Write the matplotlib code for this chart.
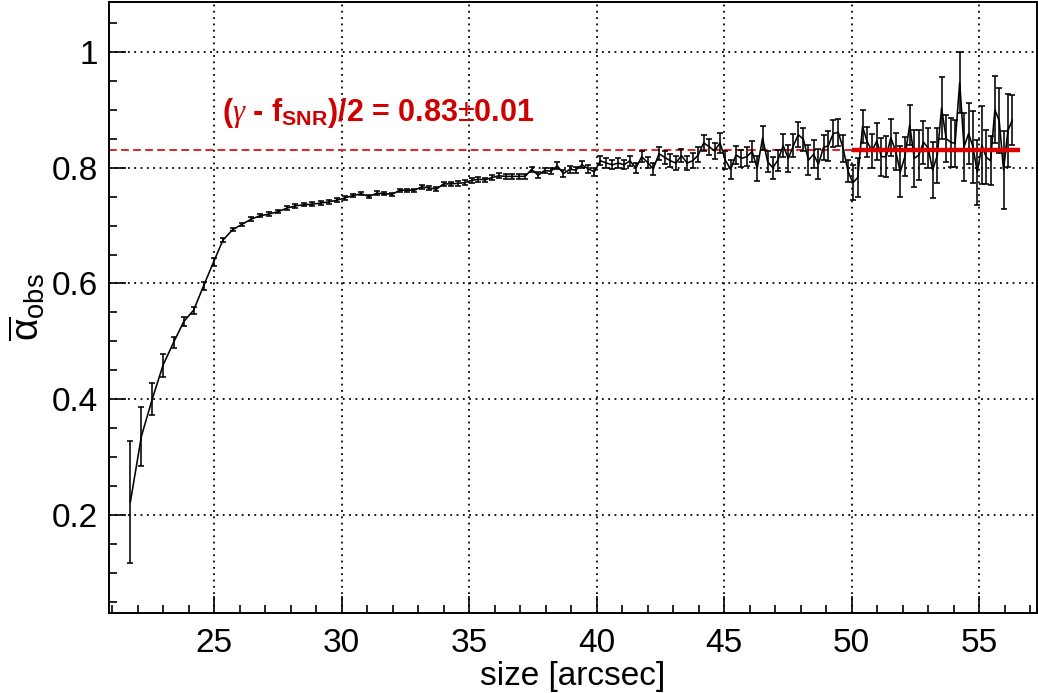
import matplotlib
matplotlib.use("Agg")
import matplotlib.pyplot as plt

plt.rcParams['font.family'] = ['Liberation Sans', 'DejaVu Sans']
plt.rcParams['mathtext.fontset'] = 'custom'
plt.rcParams['mathtext.rm'] = 'Liberation Sans'
plt.rcParams['mathtext.it'] = 'Liberation Serif:italic'
plt.rcParams['mathtext.bf'] = 'Liberation Sans:bold'

# ---------------- data ----------------
size_arcsec = [
    21.72, 22.15, 22.58, 23.00, 23.41, 23.81, 24.20, 24.59, 24.98, 25.35,
    25.73, 26.09, 26.45, 26.81, 27.16, 27.51, 27.85, 28.19, 28.53, 28.86,
    29.19, 29.51, 29.83, 30.15, 30.46, 30.77, 31.08, 31.38, 31.68, 31.98,
    32.28, 32.57, 32.86, 33.15, 33.43, 33.72, 34.00, 34.28, 34.55, 34.83,
    35.10, 35.37, 35.63, 35.90, 36.16, 36.43, 36.69, 36.94, 37.20, 37.45,
    37.71, 37.96, 38.21, 38.46, 38.70, 38.95, 39.19, 39.43, 39.67, 39.91,
    40.15, 40.38, 40.62, 40.85, 41.08, 41.31, 41.54, 41.77, 42.00, 42.22,
    42.45, 42.67, 42.89, 43.11, 43.33, 43.55, 43.77, 43.99, 44.20, 44.42,
    44.63, 44.84, 45.05, 45.26, 45.47, 45.68, 45.89, 46.10, 46.30, 46.51,
    46.71, 46.91, 47.11, 47.32, 47.52, 47.72, 47.91, 48.11, 48.31, 48.51,
    48.70, 48.90, 49.09, 49.28, 49.48, 49.67, 49.86, 50.05, 50.24, 50.43,
    50.61, 50.80, 50.99, 51.17, 51.36, 51.54, 51.73, 51.91, 52.09, 52.28,
    52.46, 52.64, 52.82, 53.00, 53.18, 53.36, 53.53, 53.71, 53.89, 54.06,
    54.24, 54.41, 54.59, 54.76, 54.93, 55.11, 55.28, 55.45, 55.62, 55.79,
    55.96, 56.13, 56.30,
]

alpha_obs = [
    0.223, 0.336, 0.401, 0.459, 0.498, 0.534, 0.554, 0.596, 0.637, 0.675,
    0.693, 0.702, 0.711, 0.717, 0.720, 0.724, 0.730, 0.734, 0.736, 0.737,
    0.739, 0.741, 0.744, 0.748, 0.752, 0.755, 0.750, 0.756, 0.755, 0.754,
    0.761, 0.761, 0.761, 0.767, 0.765, 0.763, 0.772, 0.772, 0.773, 0.774,
    0.778, 0.780, 0.779, 0.783, 0.786, 0.785, 0.785, 0.785, 0.785, 0.797,
    0.787, 0.795, 0.794, 0.803, 0.790, 0.797, 0.796, 0.805, 0.798, 0.793,
    0.812, 0.808, 0.805, 0.808, 0.805, 0.812, 0.799, 0.819, 0.809, 0.798,
    0.824, 0.818, 0.812, 0.808, 0.821, 0.808, 0.812, 0.822, 0.843, 0.836,
    0.829, 0.843, 0.813, 0.797, 0.822, 0.816, 0.819, 0.828, 0.799, 0.851,
    0.810, 0.800, 0.813, 0.838, 0.816, 0.838, 0.857, 0.849, 0.813, 0.823,
    0.806, 0.835, 0.838, 0.859, 0.861, 0.833, 0.794, 0.774, 0.783, 0.871,
    0.845, 0.829, 0.846, 0.819, 0.819, 0.852, 0.828, 0.793, 0.819, 0.874,
    0.816, 0.822, 0.844, 0.834, 0.796, 0.821, 0.903, 0.850, 0.844, 0.842,
    0.947, 0.836, 0.859, 0.836, 0.792, 0.839, 0.818, 0.812, 0.900, 0.881,
    0.796, 0.864, 0.882,
]

alpha_err = [
    0.105, 0.051, 0.028, 0.020, 0.010, 0.008, 0.006, 0.007, 0.007, 0.004,
    0.003, 0.003, 0.003, 0.003, 0.003, 0.003, 0.003, 0.003, 0.003, 0.003,
    0.003, 0.003, 0.003, 0.003, 0.003, 0.003, 0.003, 0.003, 0.003, 0.003,
    0.003, 0.003, 0.003, 0.003, 0.003, 0.004, 0.004, 0.004, 0.004, 0.004,
    0.004, 0.004, 0.004, 0.004, 0.004, 0.004, 0.004, 0.004, 0.004, 0.005,
    0.005, 0.005, 0.005, 0.006, 0.006, 0.006, 0.006, 0.006, 0.007, 0.007,
    0.008, 0.008, 0.008, 0.008, 0.008, 0.009, 0.009, 0.009, 0.010, 0.010,
    0.011, 0.011, 0.011, 0.012, 0.012, 0.012, 0.013, 0.013, 0.014, 0.014,
    0.014, 0.017, 0.015, 0.017, 0.015, 0.015, 0.016, 0.018, 0.022, 0.021,
    0.018, 0.019, 0.018, 0.020, 0.023, 0.020, 0.022, 0.020, 0.026, 0.024,
    0.026, 0.022, 0.026, 0.023, 0.023, 0.024, 0.019, 0.030, 0.033, 0.029,
    0.026, 0.030, 0.032, 0.033, 0.035, 0.032, 0.032, 0.044, 0.034, 0.035,
    0.049, 0.043, 0.037, 0.035, 0.049, 0.047, 0.053, 0.041, 0.042, 0.040,
    0.053, 0.059, 0.052, 0.062, 0.056, 0.067, 0.047, 0.042, 0.058, 0.056,
    0.067, 0.063, 0.043,
]

fit_value = 0.83
fit_range = [50.0, 56.6]
fit_label = r'($\gamma$ - f$_{\mathbf{SNR}}$)/2 = 0.83$\pm$0.01'

x_ticks = [25, 30, 35, 40, 45, 50, 55]
y_ticks = [0.2, 0.4, 0.6, 0.8, 1.0]
y_ticklabels = ['0.2', '0.4', '0.6', '0.8', '1']

# ---------------- figure ----------------
fig = plt.figure(figsize=(10.38, 6.93), dpi=100)
ax = fig.add_axes([0.105, 0.1155, 0.894, 0.8815])

xlim = (20.88, 57.27)
ylim = (0.031, 1.086)

ax.errorbar(size_arcsec, alpha_obs, yerr=alpha_err, color='black',
            lw=1.15, elinewidth=1.15, capsize=2.2, capthick=1.15, zorder=3)

ax.hlines(fit_value, xlim[0], fit_range[0], colors='#e02424', lw=1.4,
          linestyles=(0, (4.0, 2.2)), zorder=2)
ax.plot(fit_range, [fit_value, fit_value], color='#dd0000', lw=3.2, zorder=4,
        solid_capstyle='butt')

ax.text(25.31, 0.881, fit_label, color='#d00000', fontsize=22,
        fontweight='bold', ha='left', va='baseline')

ax.set_xlim(*xlim)
ax.set_ylim(*ylim)
ax.set_xticks(x_ticks)
ax.set_xticks([v for v in range(21, 58)], minor=True)
ax.set_yticks(y_ticks)
ax.set_yticklabels(y_ticklabels)
ax.set_yticks([0.05 * k for k in range(1, 22)], minor=True)

ax.grid(True, which='major', color='black', linestyle=(0, (1, 2.5)), lw=1.3)

ax.tick_params(which='both', direction='in', top=False, right=False,
               labelsize=24, width=1.2)
ax.tick_params(which='major', length=12, pad=8)
ax.tick_params(which='minor', length=6)
ax.tick_params(axis='x', which='major', pad=11)

for s in ax.spines.values():
    s.set_linewidth(1.4)

ax.set_xlabel('size [arcsec]', fontsize=24, labelpad=1)
ax.set_ylabel(r'$\overline{\mathrm{\alpha}}_{\rm obs}$', fontsize=28, labelpad=3)

fig.savefig('out.png', dpi=100)
